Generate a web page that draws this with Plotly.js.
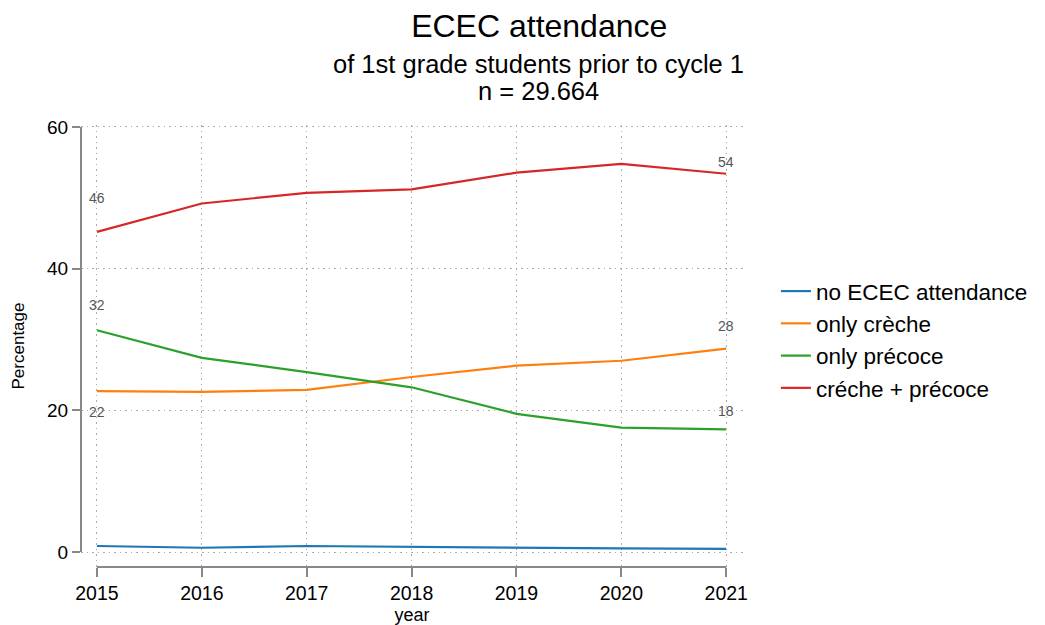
<!DOCTYPE html>
<html>
<head>
<meta charset="utf-8">
<script src="https://cdn.plot.ly/plotly-3.0.1.min.js"></script>
<style>html,body{margin:0;padding:0;background:#fff;}#chart{width:1045px;height:625px;}</style>
</head>
<body>
<div id="chart"></div>
<script>
const years = [2015, 2016, 2017, 2018, 2019, 2020, 2021];
const noEcec = [0.85, 0.6, 0.85, 0.7, 0.55, 0.5, 0.45];
const onlyCreche = [22.7, 22.6, 22.9, 24.7, 26.3, 27.0, 28.7];
const onlyPrecoce = [31.3, 27.4, 25.4, 23.25, 19.5, 17.55, 17.3];
const crechePrecoce = [45.2, 49.2, 50.7, 51.2, 53.55, 54.8, 53.4];
const seriesNames = ["no ECEC attendance", "only crèche", "only précoce", "créche + précoce"];
const seriesColors = ["#1f77b4", "#ff7f0e", "#2ca02c", "#d62728"];
const yTicks = [0, 20, 40, 60];
// data labels: text, x, y (label position)
const labelText = ["46", "32", "22", "54", "28", "18"];
const labelX = [2015, 2015, 2015, 2021, 2021, 2021];
const labelY = [50.0, 34.9, 19.8, 55.0, 31.9, 19.95];

const FONT = "Liberation Sans, Arial, Helvetica, sans-serif";
const allSeries = [noEcec, onlyCreche, onlyPrecoce, crechePrecoce];
const traces = allSeries.map((vals, i) => ({
  x: years, y: vals, type: "scatter", mode: "lines",
  name: seriesNames[i],
  line: {color: seriesColors[i], width: 2.2},
  hoverinfo: "x+y"
}));

const annotations = labelText.map((t, i) => ({
  x: labelX[i], y: labelY[i], xref: "x", yref: "y", text: t,
  showarrow: false, font: {family: FONT, size: 14, color: "#555"},
  xanchor: "center", yanchor: "middle"
}));
annotations.push({
  xref: "paper", yref: "paper", x: 0.691, y: 1.138, text: "of 1st grade students prior to cycle 1",
  showarrow: false, font: {family: FONT, size: 25.5, color: "#000"}, xanchor: "center", yanchor: "middle"
});
annotations.push({
  xref: "paper", yref: "paper", x: 0.691, y: 1.0769, text: "n = 29.664",
  showarrow: false, font: {family: FONT, size: 25.5, color: "#000"}, xanchor: "center", yanchor: "middle"
});

const layout = {
  width: 1045, height: 625,
  paper_bgcolor: "#fff", plot_bgcolor: "#fff",
  margin: {l: 81, r: 300, t: 125, b: 58, pad: 0},
  font: {family: FONT, color: "#000"},
  title: {text: "ECEC attendance", x: 0.516, xref: "container", xanchor: "center",
          y: 0.958, yref: "container", yanchor: "middle",
          font: {family: FONT, size: 32, color: "#000"}},
  xaxis: {
    range: [2014.848, 2021.16], tickvals: years, ticktext: years.map(String),
    showgrid: true, gridcolor: "#aaa", griddash: "1.5px,4px", gridwidth: 1,
    zeroline: false, showline: false,
    ticks: "outside", ticklen: 9, tickwidth: 2, tickcolor: "#888",
    tickfont: {family: FONT, size: 19.5, color: "#000"},
    title: {text: "year", standoff: 15, font: {family: FONT, size: 18, color: "#000"}}
  },
  yaxis: {
    range: [-2.118, 60.28], tickvals: yTicks,
    showgrid: true, gridcolor: "#aaa", griddash: "1.5px,4px", gridwidth: 1,
    zeroline: false, showline: false,
    ticks: "outside", ticklen: 8, tickwidth: 2, tickcolor: "#888",
    tickfont: {family: FONT, size: 19, color: "#000"},
    title: {text: "Percentage", standoff: 18, font: {family: FONT, size: 17, color: "#000"}}
  },
  shapes: [
    {type: "line", xref: "paper", yref: "y", x0: 0, x1: 0, y0: 0, y1: 60,
     line: {color: "#888", width: 2}},
    {type: "line", xref: "x", yref: "paper", x0: 2015, x1: 2021, y0: 0, y1: 0,
     line: {color: "#888", width: 2}}
  ],
  legend: {
    x: 1.0497, y: 0.672, xanchor: "left", yanchor: "top",
    font: {family: FONT, size: 22.5, color: "#000"},
    bgcolor: "rgba(0,0,0,0)", borderwidth: 0, tracegroupgap: 0
  },
  showlegend: true,
  annotations: annotations
};

Plotly.newPlot("chart", traces, layout, {displayModeBar: false, staticPlot: true});
</script>
</body>
</html>
